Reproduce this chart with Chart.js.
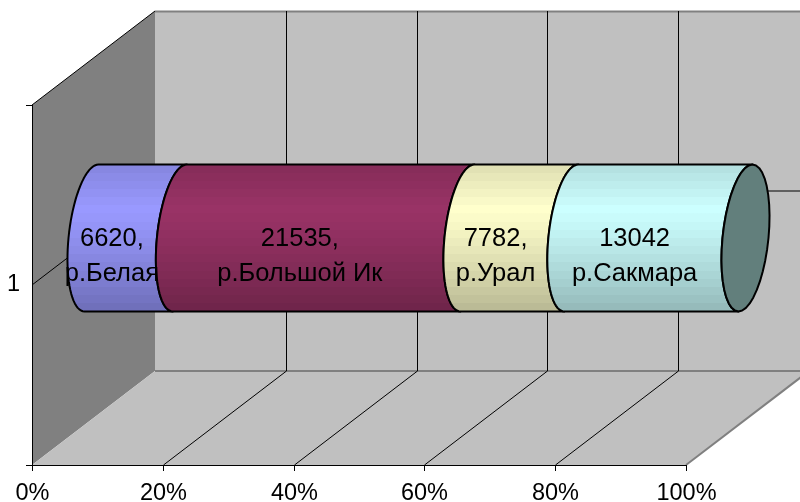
<!DOCTYPE html>
<html>
<head>
<meta charset="utf-8">
<script src="https://cdn.jsdelivr.net/npm/chart.js@4.4.1/dist/chart.umd.min.js"></script>
<style>
    html, body { margin: 0; padding: 0; background: #fff; }
    #wrap { width: 800px; height: 502px; position: relative; }
</style>
</head>
<body>
<div id="wrap"><canvas id="riverChart"></canvas></div>
<script>
var categories = ["1"];
var rivers = ["р.Белая", "р.Большой Ик", "р.Урал", "р.Сакмара"];
var volumes = [6620, 21535, 7782, 13042];
var valueSuffix = [",", ",", ",", ""];
var colors = ["#9999ff", "#993366", "#ffffcc", "#ccffff"];
var capColor = "#627f7c";
var tickValues = [0, 20, 40, 60, 80, 100];
var tickLabels = ["0%", "20%", "40%", "60%", "80%", "100%"];

// 100% stacked: each river's share of the total
var total = volumes.reduce(function (a, b) { return a + b; }, 0);
var shares = volumes.map(function (v) { return v / total * 100; });

var DX = 123, DY = -94;      // depth of the 3d box
var RX = 23, SHEAR = 7;      // ellipse look of cylinder ends
var FONT = '"Liberation Sans", Arial, sans-serif';

function line(ctx, pts, color, w) {
    ctx.beginPath();
    ctx.moveTo(pts[0][0], pts[0][1]);
    for (var i = 1; i < pts.length; i++) ctx.lineTo(pts[i][0], pts[i][1]);
    ctx.strokeStyle = color;
    ctx.lineWidth = w;
    ctx.stroke();
}

function poly(ctx, pts, fill) {
    ctx.beginPath();
    ctx.moveTo(pts[0][0], pts[0][1]);
    for (var i = 1; i < pts.length; i++) ctx.lineTo(pts[i][0], pts[i][1]);
    ctx.closePath();
    ctx.fillStyle = fill;
    ctx.fill();
}

function shade(hex, f) {
    var r = parseInt(hex.substr(1, 2), 16), g = parseInt(hex.substr(3, 2), 16), b = parseInt(hex.substr(5, 2), 16);
    return "rgb(" + Math.round(r * f) + "," + Math.round(g * f) + "," + Math.round(b * f) + ")";
}

function profile(t) {
    if (t < 0.3) return 0.87 + 0.13 * (t / 0.3);
    return 1 - 0.28 * Math.pow((t - 0.3) / 0.7, 1.2);
}

function bandGradient(ctx, hex, top, bottom) {
    var g = ctx.createLinearGradient(0, top, 0, bottom);
    var n = 18;
    for (var i = 0; i < n; i++) {
        var c = shade(hex, profile((i + 0.5) / n));
        g.addColorStop(i / n, c);
        g.addColorStop((i + 1) / n - 0.001, c);
    }
    return g;
}

// left half of a sheared ellipse, from t0 to t1
function halfEllipse(ctx, cx, cy, ry, t0, t1) {
    var steps = 40;
    for (var i = 0; i <= steps; i++) {
        var t = t0 + (t1 - t0) * i / steps;
        var yy = cy + ry * Math.sin(t);
        var xx = cx + RX * Math.cos(t) - SHEAR * Math.sin(t);
        ctx.lineTo(xx, yy);
    }
}

var box3d = {
    id: "box3d",
    beforeDatasetsDraw: function (chart) {
        var ctx = chart.ctx, a = chart.chartArea, xs = chart.scales.x, ys = chart.scales.y;
        var L = a.left, R = a.right, T = a.top, B = a.bottom;
        ctx.save();
        poly(ctx, [[L, T], [L + DX, T + DY], [L + DX, B + DY], [L, B]], "#808080");
        poly(ctx, [[L + DX, T + DY], [R + DX, T + DY], [R + DX, B + DY], [L + DX, B + DY]], "#c0c0c0");
        poly(ctx, [[L, B], [L + DX, B + DY], [R + DX, B + DY], [R, B]], "#c0c0c0");

        line(ctx, [[L + DX, T + DY + 0.5], [R + DX, T + DY + 0.5]], "#808080", 2);
        line(ctx, [[L + DX, B + DY], [R + DX, B + DY]], "#808080", 2);
        line(ctx, [[R, B], [R + DX, B + DY]], "#808080", 2);
        line(ctx, [[L, T], [L + DX, T + DY]], "#000", 1);

        tickValues.forEach(function (v) {
            if (v === 0 || v === 100) return;
            var px = Math.round(xs.getPixelForValue(v)) + 0.5;
            line(ctx, [[px + DX, T + DY], [px + DX, B + DY]], "#000", 1);
            line(ctx, [[px, B], [px + DX, B + DY]], "#000", 1);
        });

        var cy = ys.getPixelForValue(0);
        line(ctx, [[L, cy], [L + DX, cy + DY], [R + DX, cy + DY]], "#000", 1);

        // axes
        line(ctx, [[L + 0.5, T], [L + 0.5, B]], "#000", 1);
        line(ctx, [[L, B + 0.5], [R, B + 0.5]], "#000", 1);
        line(ctx, [[L - 6, T + 0.5], [L, T + 0.5]], "#000", 1);
        line(ctx, [[L - 6, B + 0.5], [L, B + 0.5]], "#000", 1);

        ctx.fillStyle = "#000";
        ctx.font = "23.5px " + FONT;
        ctx.textAlign = "center";
        ctx.textBaseline = "alphabetic";
        tickValues.forEach(function (v, i) {
            var px = Math.round(xs.getPixelForValue(v)) + 0.5;
            line(ctx, [[px, B], [px, B + 6]], "#000", 1);
            ctx.fillText(tickLabels[i], px, B + 35);
        });
        ctx.textAlign = "right";
        ctx.textBaseline = "middle";
        categories.forEach(function (c, i) {
            ctx.fillText(c, L - 12, ys.getPixelForValue(i));
        });
        ctx.restore();
    },
    afterDatasetsDraw: function (chart) {
        var ctx = chart.ctx;
        ctx.save();
        var n = chart.data.datasets.length;
        for (var d = 0; d < n; d++) {
            var el = chart.getDatasetMeta(d).data[0];
            var x0 = el.base + DX / 2 - 2, x1 = el.x + DX / 2 - 2;
            var cy = el.y + DY / 2, ry = el.height / 2;
            var top = cy - ry, bottom = cy + ry;
            ctx.beginPath();
            ctx.moveTo(x0 + SHEAR, top);
            ctx.lineTo(x1 + SHEAR, top);
            halfEllipse(ctx, x1, cy, ry, -Math.PI / 2, -1.5 * Math.PI);
            ctx.lineTo(x0 - SHEAR, bottom);
            halfEllipse(ctx, x0, cy, ry, Math.PI / 2, 1.5 * Math.PI);
            ctx.closePath();
            ctx.fillStyle = bandGradient(ctx, colors[d], top, bottom);
            ctx.fill();
            ctx.lineWidth = 2;
            ctx.lineJoin = "round";
            ctx.strokeStyle = "#000";
            ctx.stroke();
            if (d === n - 1) {
                ctx.beginPath();
                halfEllipse(ctx, x1, cy, ry, 0, 2 * Math.PI);
                ctx.closePath();
                ctx.fillStyle = capColor;
                ctx.fill();
                ctx.stroke();
            }
        }
        // data labels
        ctx.fillStyle = "#000";
        ctx.font = "25.5px " + FONT;
        ctx.textAlign = "center";
        ctx.textBaseline = "alphabetic";
        for (var k = 0; k < n; k++) {
            var e = chart.getDatasetMeta(k).data[0];
            var lx = (e.base + e.x) / 2 + DX * 0.29;
            var ly = e.y + DY * 0.29;
            ctx.fillText(volumes[k] + valueSuffix[k], lx, ly - 12);
            ctx.fillText(rivers[k], lx, ly + 23);
        }
        ctx.restore();
    }
};

var datasets = rivers.map(function (r, i) {
    return {
        label: r,
        data: [shares[i]],
        backgroundColor: "rgba(0,0,0,0)",
        borderWidth: 0,
        stack: "s",
        barPercentage: 0.408,
        categoryPercentage: 1
    };
});

var ctx = document.getElementById("riverChart").getContext("2d");
var myChart = new Chart(ctx, {
    type: "bar",
    data: {
        labels: categories,
        datasets: datasets,
    },
    options: {
        indexAxis: "y",
        responsive: true,
        maintainAspectRatio: false,
        animation: false,
        layout: { padding: { left: 32, right: 114, top: 105, bottom: 37 } },
        plugins: { legend: { display: false }, tooltip: { enabled: false } },
        scales: {
            x: { stacked: true, min: 0, max: 100, display: false },
            y: { stacked: true, display: false },
        },
    },
    plugins: [box3d],
});
</script>
</body>
</html>
